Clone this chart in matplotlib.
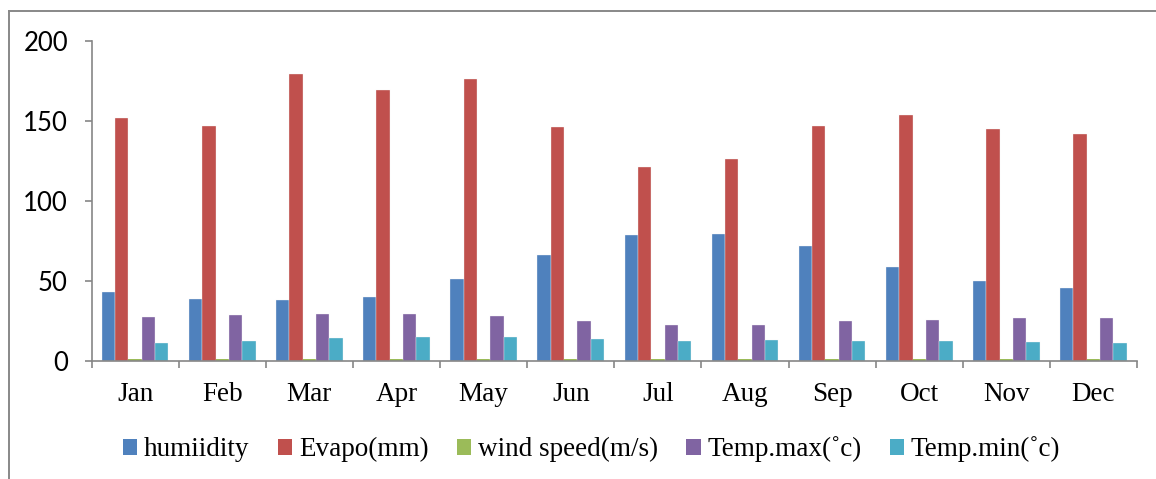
import numpy as np
import matplotlib
matplotlib.use("Agg")
import matplotlib.pyplot as plt
from matplotlib.patches import Patch
from matplotlib.lines import Line2D

months = ["Jan", "Feb", "Mar", "Apr", "May", "Jun",
          "Jul", "Aug", "Sep", "Oct", "Nov", "Dec"]
humidity = [43.0, 38.9, 38.5, 40.1, 51.1, 66.1, 78.6, 79.2, 71.9, 59.0, 49.9, 45.7]
evapo    = [152, 146.8, 179, 169, 175.9, 146, 121, 126, 147, 153.9, 145, 142]
wind     = [1.3, 1.4, 1.5, 1.5, 1.4, 1.3, 1.2, 1.2, 1.2, 1.2, 1.2, 1.2]
tmax     = [27.6, 28.7, 29.7, 29.3, 28.3, 25.0, 22.5, 22.6, 25.0, 26.0, 26.8, 26.8]
tmin     = [11.4, 12.7, 14.3, 15.3, 15.3, 13.7, 12.9, 13.1, 12.7, 12.5, 12.2, 11.6]

series = [humidity, evapo, wind, tmax, tmin]
labels = ["humiidity", "Evapo(mm)", "wind speed(m/s)", "Temp.max(\u02dac)", "Temp.min(\u02dac)"]
colors = ["#4F81BD", "#C0504D", "#9BBB59", "#8064A2", "#4BACC6"]

fig = plt.figure(figsize=(11.56, 4.79), dpi=100)
ax = fig.add_axes([0.0792, 0.2457, 0.9044, 0.6693])

x = np.arange(len(months))
bw = 0.153
for i, (vals, c) in enumerate(zip(series, colors)):
    ax.bar(x + (i - 2) * bw, vals, width=bw, color=c,
           edgecolor="#f4f4f4", linewidth=0.25 if i != 2 else 0)

ax.set_xlim(-0.5, len(months) - 0.5)
ax.set_ylim(0, 200)
ax.set_yticks([0, 50, 100, 150, 200])
ax.tick_params(axis="y", direction="out", length=5, width=1.2,
               color="#868686", pad=12, labelsize=18.5)
for t in ax.get_yticklabels():
    t.set_fontfamily("Lato")

# category boundaries get the tick marks, names go in the middle
ax.set_xticks(np.arange(-0.5, len(months), 1.0))
ax.set_xticklabels([])
ax.set_xticks(x, minor=True)
ax.set_xticklabels(months, minor=True, fontfamily="Liberation Serif", fontsize=19.5)
ax.tick_params(axis="x", which="major", direction="out", length=5, width=1.2, color="#868686")
ax.tick_params(axis="x", which="minor", length=0, pad=15)

for s in ["top", "right"]:
    ax.spines[s].set_visible(False)
for s in ["left", "bottom"]:
    ax.spines[s].set_color("#868686")
    ax.spines[s].set_linewidth(1.2)

handles = [Patch(facecolor=c, edgecolor="none") for c in colors]
fig.legend(handles, labels, loc="center", bbox_to_anchor=(0.512, 0.062), ncol=5,
           frameon=False, prop={"family": "Liberation Serif", "size": 19.5},
           handlelength=0.52, handleheight=0.52, handletextpad=0.25,
           columnspacing=1.05, borderaxespad=0)

# chart frame (only left and top edges are visible in the crop)
W, H = 1156, 479
fig.add_artist(Line2D([9 / W, 9 / W], [0, 1 - 11 / H], transform=fig.transFigure,
                      color="#888888", lw=1.4))
fig.add_artist(Line2D([9 / W, 1], [1 - 11 / H, 1 - 11 / H], transform=fig.transFigure,
                      color="#888888", lw=1.4))

fig.savefig("out.png", dpi=100)
